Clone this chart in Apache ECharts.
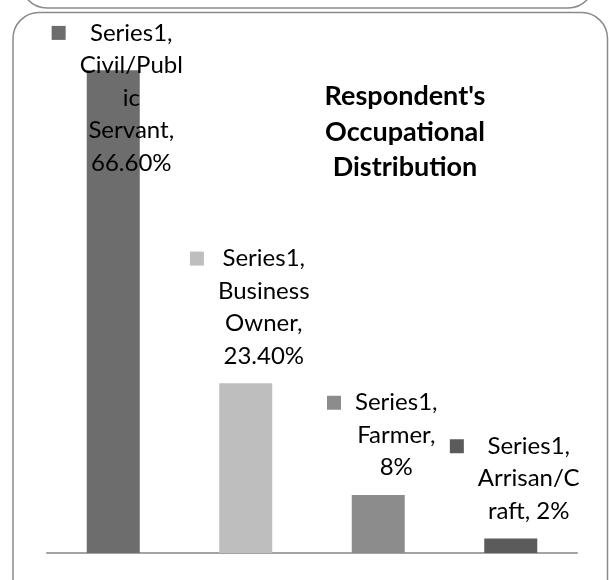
<!DOCTYPE html>
<html>
<head>
<meta charset="utf-8">
<script src="https://cdn.jsdelivr.net/npm/echarts@6/dist/echarts.min.js"></script>
<style>
  html, body { margin: 0; padding: 0; background: #ffffff; }
  #chart { width: 609px; height: 580px; }
</style>
</head>
<body>
<div id="chart"></div>
<script>
// ---- data ----
const seriesName = 'Series1';
const categories = ['Civil/Public Servant', 'Business Owner', 'Farmer', 'Arrisan/Craft'];
const values = [66.6, 23.4, 8, 2];
const barColors = ['#6d6d6d', '#bebebe', '#8c8c8c', '#5b5b5b'];
// how each category name wraps inside its data label; '#' marks where the value goes
const labelWraps = [
  ['Civil/Publ', 'ic', 'Servant,', '#'],
  ['Business', 'Owner,', '#'],
  ['Farmer,', '#'],
  ['Arrisan/C', 'raft, #']
];
const titleLines = ["Respondent's", 'Occupational', 'Distribution'];

// ---- helpers ----
function formatPercent(v) {
  return (Number.isInteger(v) ? String(v) : v.toFixed(2)) + '%';
}

function labelText(i) {
  const lines = ['{k' + i + '|}{g|}{t|' + seriesName + ',}'];
  labelWraps[i].forEach(function (l) {
    lines.push('{s|}{t|' + l.replace('#', formatPercent(values[i])) + '}');
  });
  return lines.join('\n');
}

const FONT = 'Lato, "Open Sans", sans-serif';
const LINE_H = 32.5;

const rich = {
  g: { width: 14, align: 'left' },
  s: { width: 28, align: 'left' },
  t: { fontFamily: FONT, fontSize: 24, color: '#000000', lineHeight: LINE_H }
};
barColors.forEach(function (c, i) {
  rich['k' + i] = { width: 14, height: 14, backgroundColor: c, align: 'left' };
});

const barData = values.map(function (v, i) {
  const item = { value: v, itemStyle: { color: barColors[i] } };
  // the tallest bar's label sits lower, over the top of its bar
  if (i === 0) item.label = { offset: [4, 120] };
  return item;
});

const chart = echarts.init(document.getElementById('chart'), null, { renderer: 'canvas' });

chart.setOption({
  animation: false,
  backgroundColor: '#ffffff',
  title: {
    text: titleLines.join('\n'),
    left: 405,
    top: 79,
    textAlign: 'center',
    padding: 0,
    textStyle: {
      fontFamily: FONT,
      fontSize: 27,
      fontWeight: 'bold',
      color: '#000000',
      lineHeight: 35.5
    }
  },
  grid: { left: 47, right: 32, top: 45.5, bottom: 27 },
  xAxis: {
    type: 'category',
    data: categories,
    axisLine: { show: true, lineStyle: { color: '#a3a3a3', width: 2 } },
    axisTick: { show: false },
    axisLabel: { show: false },
    splitLine: { show: false }
  },
  yAxis: {
    type: 'value',
    min: 0,
    max: 70,
    show: false,
    splitLine: { show: false }
  },
  graphic: [
    {
      type: 'rect',
      z: -1,
      shape: { x: 21, y: -120, width: 573, height: 128, r: 26 },
      style: { fill: 'none', stroke: '#8a8a8a', lineWidth: 1.5 }
    },
    {
      type: 'rect',
      z: -1,
      shape: { x: 13, y: 12.5, width: 594.5, height: 640, r: 26 },
      style: { fill: 'none', stroke: '#8a8a8a', lineWidth: 1.5 }
    }
  ],
  series: [{
    name: seriesName,
    type: 'bar',
    barWidth: 53,
    data: barData,
    label: {
      show: true,
      position: 'top',
      distance: 11,
      offset: [4, 0],
      align: 'center',
      lineHeight: LINE_H,
      formatter: function (p) { return labelText(p.dataIndex); },
      rich: rich
    }
  }]
});
</script>
</body>
</html>
